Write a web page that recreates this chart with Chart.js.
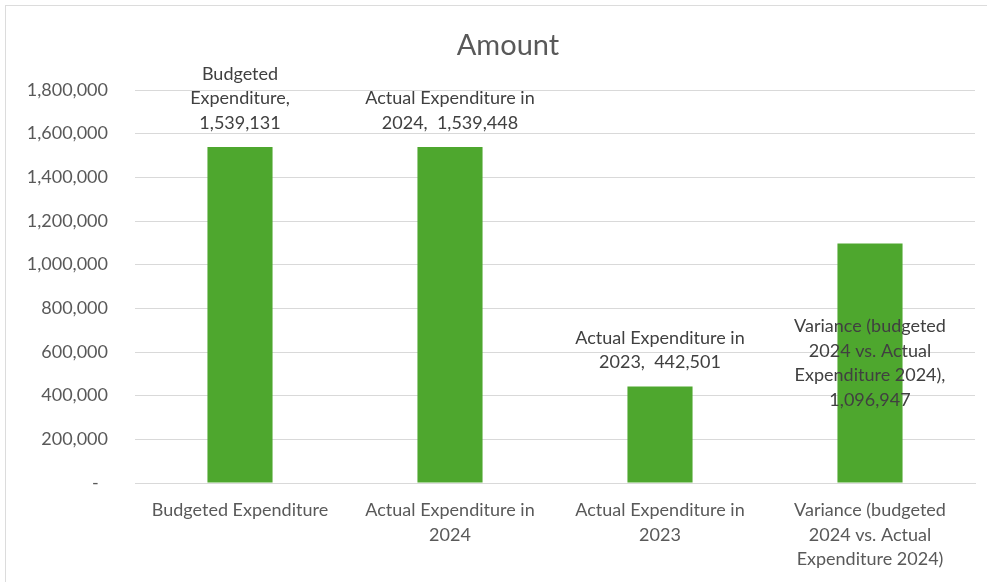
<!DOCTYPE html>
<html>
<head>
<meta charset="utf-8">
<script src="https://cdn.jsdelivr.net/npm/chart.js@4"></script>
<style>
    html,body{margin:0;padding:0;background:#fff;}
    #wrap{position:relative;width:987px;height:582px;overflow:hidden;}
    #frame{position:absolute;left:5px;top:5px;width:1000px;height:600px;border:1px solid #dcdcdc;box-sizing:border-box;}
    canvas{position:absolute;left:0;top:0;}
</style>
</head>
<body>
<div id="wrap">
    <div id="frame"></div>
    <canvas id="chart" width="987" height="582"></canvas>
</div>
<script>
// chart values
const categories=[
    ['Budgeted Expenditure'],
    ['Actual Expenditure in','2024'],
    ['Actual Expenditure in','2023'],
    ['Variance (budgeted','2024 vs. Actual','Expenditure 2024)']
];
const amounts=[1539131,1539448,442501,1096947];
const yTicks=[0,200000,400000,600000,800000,1000000,1200000,1400000,1600000,1800000];
// data label text, {v} is replaced by the value
const dataLabelText=[
    ['Budgeted','Expenditure,','{v}'],
    ['Actual Expenditure in','2024,  {v}'],
    ['Actual Expenditure in','2023,  {v}'],
    ['Variance (budgeted','2024 vs. Actual','Expenditure 2024),','{v}']
];

const FONT='Lato, "Open Sans", sans-serif';
const fmt=function(n){
    return n.toLocaleString('en-US');
};

const titlePlugin={
    id:'excelTitle',
    afterDraw:function(chart){
        const ctx=chart.ctx;
        ctx.save();
        ctx.font='29px '+FONT;
        ctx.fillStyle='#595959';
        ctx.textAlign='center';
        ctx.textBaseline='middle';
        ctx.fillText('Amount',508,46);
        ctx.restore();
    }
};

const barLabelPlugin={
    id:'barLabels',
    afterDatasetsDraw:function(chart,args,opts){
        const ctx=chart.ctx;
        const meta=chart.getDatasetMeta(0);
        const lh=opts.lineHeight;
        ctx.save();
        ctx.font=opts.size+'px '+FONT;
        ctx.fillStyle='#404040';
        ctx.textAlign='center';
        ctx.textBaseline='middle';
        meta.data.forEach(function(bar,i){
            const lines=dataLabelText[i].map(function(s){
                return s.replace('{v}',fmt(amounts[i]));
            });
            const nudge=opts.nudge[i] || 0;
            let y;
            if(nudge){
                y=bar.y+nudge;
            }else{
                y=bar.y-opts.gap-(lines.length-1)*lh;
            }
            lines.forEach(function(line,k){
                ctx.fillText(line,bar.x,y+k*lh);
            });
        });
        ctx.restore();
    }
};

const ctx=document.getElementById('chart');
new Chart(ctx,{
    type:'bar',
    data:{
        labels:categories,
        datasets:[{
            label:'Amount',
            data:amounts,
            backgroundColor:'#4ea72e',
            borderWidth:0,
            barPercentage:0.31,
            categoryPercentage:1
        }]
    },
    options:{
        responsive:false,
        animation:false,
        layout:{padding:{top:90,right:12,left:0,bottom:0}},
        plugins:{
            legend:{display:false},
            title:{display:false},
            tooltip:{enabled:false},
            barLabels:{size:18,lineHeight:24.5,gap:24,nudge:[0,0,0,83]}
        },
        scales:{
            x:{
                grid:{display:false,drawTicks:false},
                border:{display:true,color:'#d9d9d9',width:1},
                ticks:{
                    color:'#595959',
                    font:{family:FONT,size:18,lineHeight:1.36},
                    padding:15,
                    maxRotation:0,
                    autoSkip:false
                },
                afterFit:function(scale){
                    scale.height=99;
                }
            },
            y:{
                min:0,
                max:1800000,
                afterBuildTicks:function(scale){
                    scale.ticks=yTicks.map(function(v){return {value:v};});
                },
                grid:{color:'#d9d9d9',lineWidth:1,drawTicks:false},
                border:{display:false},
                ticks:{
                    color:'#595959',
                    font:{family:FONT,size:18},
                    padding:27,
                    callback:function(v){
                        return v===0?'-  ':fmt(v);
                    }
                },
                afterFit:function(scale){
                    scale.width=135;
                }
            }
        }
    },
    plugins:[titlePlugin,barLabelPlugin]
});
</script>
</body>
</html>
